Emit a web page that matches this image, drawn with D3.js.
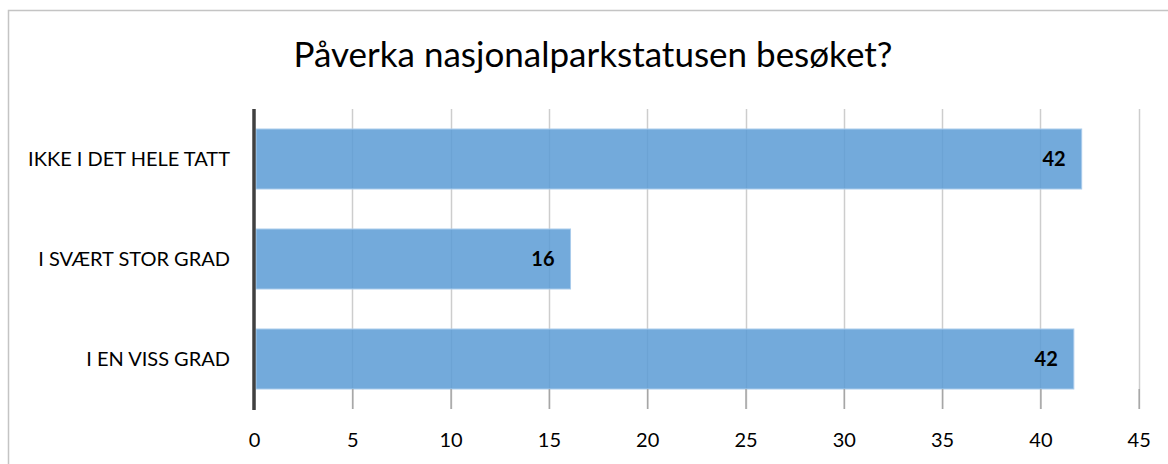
<!DOCTYPE html>
<html>
<head>
<meta charset="utf-8">
<script src="https://cdn.jsdelivr.net/npm/d3@7"></script>
<style>
  body { margin: 0; background: #fff; }
  svg { display: block; }
  text { font-family: Lato, "Open Sans", sans-serif; fill: #000; }
</style>
</head>
<body>
<div class="chart"></div>
<script>
// data (percent of answers)
const categories = ["IKKE I DET HELE TATT", "I SVÆRT STOR GRAD", "I EN VISS GRAD"];
const values = [42.1, 16.1, 41.7];
const labels = ["42", "16", "42"];
const xTicks = [0, 5, 10, 15, 20, 25, 30, 35, 40, 45];
const title = "Påverka nasjonalparkstatusen besøket?";

let width = 1168, height = 464;
let plot = { left: 254, right: 1138.7, top: 109, bottom: 409 };

let svg = d3.select(".chart").append("svg")
  .attr("width", width)
  .attr("height", height);

// outer frame
svg.append("rect")
  .attr("x", 8.5).attr("y", 10.5)
  .attr("width", width).attr("height", height)
  .attr("fill", "none")
  .attr("stroke", "#c4c4c4")
  .attr("stroke-width", 1.5);

svg.append("text")
  .attr("x", 593).attr("y", 67)
  .attr("text-anchor", "middle")
  .style("font-size", "35px")
  .text(title);

let x = d3.scaleLinear().domain([0, 45]).range([plot.left, plot.right]);
let y = d3.scaleBand().domain(categories)
  .range([plot.top, plot.bottom])
  .paddingInner(0.4).paddingOuter(0.2);

// grid
svg.append("g")
  .selectAll("line")
  .data(xTicks.slice(1))
  .join("line")
  .attr("x1", d => Math.round(x(d)) + 0.5)
  .attr("x2", d => Math.round(x(d)) + 0.5)
  .attr("y1", plot.top)
  .attr("y2", plot.bottom)
  .attr("stroke", "#cdcdcd")
  .attr("stroke-width", 1.5);

// bars
svg.append("g")
  .selectAll("rect")
  .data(values)
  .join("rect")
  .attr("x", x(0) + 2)
  .attr("y", (d, i) => y(categories[i]))
  .attr("width", d => x(d) - x(0) - 2)
  .attr("height", y.bandwidth())
  .attr("fill", "#5b9bd5")
  .attr("fill-opacity", 0.85)
  .attr("stroke", "#a9cbeb")
  .attr("stroke-width", 1);

// value labels
svg.append("g")
  .selectAll("text")
  .data(values)
  .join("text")
  .attr("x", d => x(d) - 16)
  .attr("y", (d, i) => y(categories[i]) + y.bandwidth() / 2)
  .attr("dy", "0.36em")
  .attr("text-anchor", "end")
  .style("font-size", "20px")
  .style("font-weight", "bold")
  .text((d, i) => labels[i]);

// x axis ticks + labels
let xAxis = d3.axisBottom(x).tickValues(xTicks).tickSize(20).tickPadding(24);
let gx = svg.append("g")
  .attr("transform", "translate(0," + (plot.bottom - 20) + ")")
  .call(xAxis);
gx.select(".domain").remove();
gx.selectAll(".tick line").attr("stroke", "#a6a6a6").attr("stroke-width", 1.5);
gx.selectAll(".tick text")
  .style("font-family", "Lato, sans-serif")
  .style("font-size", "20px")
  .attr("fill", "#000");

// category labels
svg.append("g")
  .selectAll("text")
  .data(categories)
  .join("text")
  .attr("x", 230)
  .attr("y", d => y(d) + y.bandwidth() / 2)
  .attr("dy", "0.36em")
  .attr("text-anchor", "end")
  .style("font-size", "20px")
  .text(d => d);

// vertical axis line
svg.append("line")
  .attr("x1", x(0)).attr("x2", x(0))
  .attr("y1", plot.top).attr("y2", plot.bottom + 1)
  .attr("stroke", "#404040")
  .attr("stroke-width", 3.5);
</script>
</body>
</html>
